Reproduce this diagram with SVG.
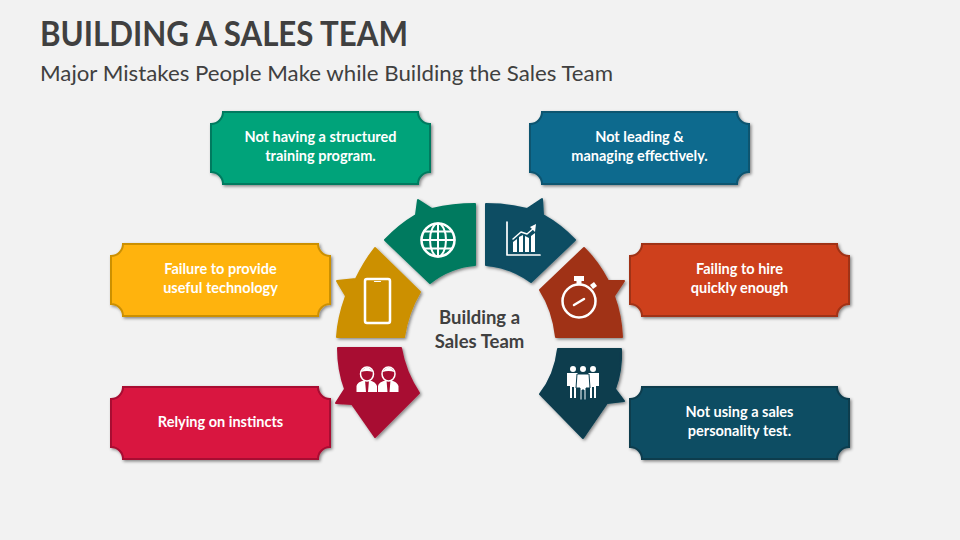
<svg xmlns="http://www.w3.org/2000/svg" width="960" height="540" viewBox="0 0 960 540">
<defs>
<filter id="sh" x="-20%" y="-20%" width="140%" height="140%"><feDropShadow dx="1.5" dy="1.5" stdDeviation="1.5" flood-color="#000" flood-opacity="0.45"/></filter>
<path id="plaque" d="M12 0H207A12 12 0 0 0 219 12V60A12 12 0 0 0 207 72H12A12 12 0 0 0 0 60V12A12 12 0 0 0 12 0Z"/>
</defs>
<style>
text{font-family:"Lato","Open Sans","Liberation Sans",sans-serif}
.t{font-size:14.500px;font-weight:700;fill:#fff;text-anchor:middle}
.p{stroke-width:2;filter:url(#sh)}
.w{fill:none;stroke:#fff;stroke-linecap:round;stroke-linejoin:round}
.f{fill:#fff}
.a{filter:url(#sh)}
.c{font-size:18.500px;font-weight:700;fill:#404040;text-anchor:middle}
</style>
<rect width="960" height="540" fill="#f2f2f2"/>
<text x="40" y="46" font-size="34" font-weight="700" fill="#404040" textLength="368" lengthAdjust="spacingAndGlyphs">BUILDING A SALES TEAM</text>
<text x="40" y="81" font-size="21" fill="#404040" textLength="573" lengthAdjust="spacingAndGlyphs">Major Mistakes People Make while Building the Sales Team</text>

<g id="connectors"></g>

<g id="box-training" transform="translate(211,112)"><use href="#plaque" class="p" fill="#06a37a" stroke="#067a5f"/><text class="t" x="109.500" y="30">Not having a structured</text><text class="t" x="109.500" y="49">training program.</text></g>
<g id="box-leading" transform="translate(530,112)"><use href="#plaque" class="p" fill="#0e6a8e" stroke="#0b5470"/><text class="t" x="109.500" y="30">Not leading &amp;</text><text class="t" x="109.500" y="49">managing effectively.</text></g>
<g id="box-technology" transform="translate(111,244)"><use href="#plaque" class="p" fill="#ffb30f" stroke="#cc9006"/><text class="t" x="109.500" y="30">Failure to provide</text><text class="t" x="109.500" y="49">useful technology</text></g>
<g id="box-hire" transform="translate(630,244)"><use href="#plaque" class="p" fill="#ce411c" stroke="#a03216"/><text class="t" x="109.500" y="30">Failing to hire</text><text class="t" x="109.500" y="49">quickly enough</text></g>
<g id="box-instincts" transform="translate(111,387)"><use href="#plaque" class="p" fill="#d91440" stroke="#a80f32"/><text class="t" x="109.500" y="40">Relying on instincts</text></g>
<g id="box-personality" transform="translate(630,387)"><use href="#plaque" class="p" fill="#0b4d63" stroke="#083c4e"/><text class="t" x="109.500" y="30">Not using a sales</text><text class="t" x="109.500" y="49">personality test.</text></g>

<g id="arrow-globe">
<path class="a" fill="#067a5f" stroke="#067a5f" stroke-width="2" stroke-linejoin="round" d="M475 204Q453 204 432 209L418 200L416 215Q399 225 385 240L430 283Q450 267 475 265Z"/>
<g transform="translate(438,240)"><circle class="w" r="16.500" stroke-width="2.500"/><ellipse class="w" rx="8" ry="16.500" stroke-width="2"/><path class="w" stroke-width="2" d="M0 -16.500V16.500M-16.500 0H16.500M-14 -8.500H14M-14 8.500H14"/></g>
</g>
<g id="arrow-chart">
<path class="a" fill="#0b4d63" stroke="#0b4d63" stroke-width="2" stroke-linejoin="round" d="M486 204Q507 204 527 209L542 199L543 215Q561 225 575 240L531 282Q510 267 486 265Z"/>
<g transform="translate(480,190)"><path class="w" stroke-width="1.700" stroke-linecap="butt" d="M27 32V65H60"/><path class="f" d="M33 52l4-3v13h-4zM39 47l4-2v17h-4zM45 46l4 2v14h-4zM51 46l4-3v19h-4z"/><path class="w" stroke-width="1.500" d="M33 49L41 42L47 44L54 38"/><path class="f" d="M56 34L50 37L55 42Z"/></g>
</g>
<g id="arrow-stopwatch">
<path class="a" fill="#a03216" stroke="#a03216" stroke-width="2" stroke-linejoin="round" d="M584 248Q598 262 608 281L624 281L614 296Q621 315 622 337H556Q553 310 540 290Z"/>
<g transform="translate(579,301)"><circle class="w" r="16.500" stroke-width="2.500"/><path class="f" d="M-5 -25H5V-20H2.500V-16.500H-2.500V-20H-5Z"/><path class="f" d="M11 -16L15 -19L18 -15L14 -12Z"/><path class="w" stroke-width="2.500" d="M-5 4L5 -2"/></g>
</g>
<g id="arrow-phone">
<path class="a" fill="#cc9006" stroke="#cc9006" stroke-width="2" stroke-linejoin="round" d="M375 248L420 292Q408 312 404 337H337Q338 318 346 296L337 281L356 279Q364 262 375 248Z"/>
<g transform="translate(377.500,301)"><rect class="w" x="-12.500" y="-22" width="25" height="44" rx="2" stroke-width="2.500"/><path class="w" stroke-width="1.200" d="M-3 -19.500H3"/></g>
</g>
<g id="arrow-people">
<path class="a" fill="#a80f32" stroke="#a80f32" stroke-width="2" stroke-linejoin="round" d="M338 348H401Q405 372 419 393L375 437L352 404L336 403L345 389Q338 370 338 348Z"/>
<g transform="translate(320,330)"><g id="person1"><ellipse class="w" stroke-width="1.500" cx="47" cy="44" rx="6.500" ry="7"/><path class="f" d="M41 42Q47 33 53 42Q47 40 41 42ZM36.500 62V56Q37 52 45 50L46 62ZM48 62L49 50Q56 52 57 56V62Z"/></g><g transform="translate(21.500,0)"><ellipse class="w" stroke-width="1.500" cx="47" cy="44" rx="6.500" ry="7"/><path class="f" d="M41 42Q47 33 53 42Q47 40 41 42ZM36.500 62V56Q37 52 45 50L46 62ZM48 62L49 50Q56 52 57 56V62Z"/></g></g>
</g>
<g id="arrow-team">
<path class="a" fill="#083c4e" stroke="#083c4e" stroke-width="2" stroke-linejoin="round" d="M558 349H621Q622 370 615 389L624 401L607 403L583 438L540 394Q555 375 558 349Z"/>
<g transform="translate(520,330)" class="f"><circle cx="53" cy="39" r="3"/><circle cx="63" cy="39" r="3"/><circle cx="73" cy="39" r="3"/><path d="M47 43H58V56H56V68H54V57H52V68H50V56H47ZM68 43H79V56H76V68H74V57H72V68H70V56H68Z"/><path d="M57 44H69L70 58H66V70H64V60H62V70H60V58H56Z" stroke="#083c4e" stroke-width="1"/></g>
</g>

<g id="center"><text class="c" x="479.500" y="324">Building a</text><text class="c" x="479.500" y="348">Sales Team</text></g>
</svg>
